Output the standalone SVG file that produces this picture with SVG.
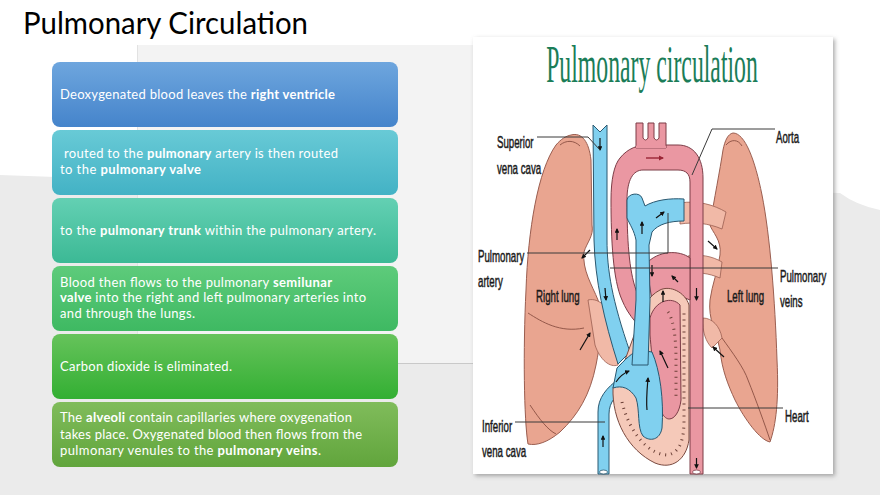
<svg xmlns="http://www.w3.org/2000/svg" width="880" height="495" viewBox="0 0 880 495">
<defs>
<style>
.bt{font-family:Lato,"Liberation Sans",sans-serif;font-size:13px;fill:#ffffff}
.b{font-weight:bold}
.lb{font-family:"Liberation Sans",Arial,sans-serif;font-size:17px;fill:#1a1a1a;stroke:#1a1a1a;stroke-width:0.5}
.ld{fill:none;stroke:#3a3a3a;stroke-width:1}
.lung{fill:#e9a590;stroke:#9a5e50;stroke-width:1}
.lt{fill:#f1b9a7;stroke:#9a5e50;stroke-width:0.8}
.blue{fill:#80d0ef;stroke:#2a5870;stroke-width:1}
.pink{fill:#ea97a2;stroke:#7c3d47;stroke-width:1}
.arr{fill:none;stroke:#111;stroke-width:1.2;marker-end:url(#ah)}
.fis{fill:none;stroke:#8a4f42;stroke-width:0.9}
.hat{fill:none;stroke:#6b3f36;stroke-width:3;stroke-dasharray:1 5}
</style>
<linearGradient id="g1" x1="0" y1="0" x2="0" y2="1"><stop offset="0" stop-color="#6ea6de"/><stop offset="1" stop-color="#4584cb"/></linearGradient>
<linearGradient id="g2" x1="0" y1="0" x2="0" y2="1"><stop offset="0" stop-color="#68cad6"/><stop offset="1" stop-color="#43b2c5"/></linearGradient>
<linearGradient id="g3" x1="0" y1="0" x2="0" y2="1"><stop offset="0" stop-color="#63d0b3"/><stop offset="1" stop-color="#3cb995"/></linearGradient>
<linearGradient id="g4" x1="0" y1="0" x2="0" y2="1"><stop offset="0" stop-color="#5ecb7b"/><stop offset="1" stop-color="#3eb962"/></linearGradient>
<linearGradient id="g5" x1="0" y1="0" x2="0" y2="1"><stop offset="0" stop-color="#66c35b"/><stop offset="1" stop-color="#33af33"/></linearGradient>
<linearGradient id="g6" x1="0" y1="0" x2="0" y2="1"><stop offset="0" stop-color="#80bc5b"/><stop offset="1" stop-color="#61a53c"/></linearGradient>
<marker id="ah" viewBox="0 0 10 10" refX="8" refY="5" markerWidth="4" markerHeight="4" orient="auto"><path d="M0,0 L10,5 L0,10 Z" fill="#111"/></marker>
<marker id="ahr" viewBox="0 0 10 10" refX="8" refY="5" markerWidth="4" markerHeight="4" orient="auto"><path d="M0,0 L10,5 L0,10 Z" fill="#9a2535"/></marker>
<filter id="sh" x="-5%" y="-5%" width="112%" height="112%"><feDropShadow dx="2" dy="2" stdDeviation="2" flood-color="#777" flood-opacity="0.6"/></filter>
</defs>

<g id="background">
<rect width="880" height="495" fill="#ffffff"/>
<path d="M0,175 L140,180 L470,185 L840,193 Q856,205 880,210 L880,495 L0,495 Z" fill="#ebebeb"/>
<rect x="137" y="45" width="340" height="318" fill="#f3f3f3"/>
<line x1="137.5" y1="45" x2="137.5" y2="363" stroke="#e2e2e2" stroke-width="1"/>
<line x1="398" y1="363.5" x2="474" y2="363.5" stroke="#c9c9c9" stroke-width="1.2"/>
</g>

<text id="title" x="23" y="34" font-family="Lato,'Liberation Sans',sans-serif" font-size="30" fill="#000" textLength="285" lengthAdjust="spacingAndGlyphs">Pulmonary Circulation</text>

<g id="step1">
<rect x="52" y="62" width="346" height="65" rx="8" fill="url(#g1)"/>
<text class="bt" x="60" y="99" textLength="275" lengthAdjust="spacing">Deoxygenated blood leaves the <tspan class="b">right ventricle</tspan></text>
</g>
<g id="step2">
<rect x="52" y="130" width="346" height="65" rx="8" fill="url(#g2)"/>
<text class="bt" x="64" y="158" textLength="274" lengthAdjust="spacing">routed to the <tspan class="b">pulmonary</tspan> artery is then routed</text>
<text class="bt" x="60" y="174" textLength="141" lengthAdjust="spacing">to the <tspan class="b">pulmonary valve</tspan></text>
</g>
<g id="step3">
<rect x="52" y="198" width="346" height="65" rx="8" fill="url(#g3)"/>
<text class="bt" x="60" y="235" textLength="316" lengthAdjust="spacing">to the <tspan class="b">pulmonary trunk</tspan> within the pulmonary artery.</text>
</g>
<g id="step4">
<rect x="52" y="266" width="346" height="65" rx="8" fill="url(#g4)"/>
<text class="bt" x="60" y="287" textLength="272" lengthAdjust="spacing">Blood then flows to the pulmonary <tspan class="b">semilunar</tspan></text>
<text class="bt" x="60" y="302" textLength="306" lengthAdjust="spacing"><tspan class="b">valve</tspan> into the right and left pulmonary arteries into</text>
<text class="bt" x="60" y="318" textLength="135" lengthAdjust="spacing">and through the lungs.</text>
</g>
<g id="step5">
<rect x="52" y="334" width="346" height="65" rx="8" fill="url(#g5)"/>
<text class="bt" x="60" y="371" textLength="172" lengthAdjust="spacing">Carbon dioxide is eliminated.</text>
</g>
<g id="step6">
<rect x="52" y="402" width="346" height="65" rx="8" fill="url(#g6)"/>
<text class="bt" x="60" y="422" textLength="292" lengthAdjust="spacing">The <tspan class="b">alveoli</tspan> contain capillaries where oxygenation</text>
<text class="bt" x="60" y="439" textLength="302" lengthAdjust="spacing">takes place. Oxygenated blood then flows from the</text>
<text class="bt" x="60" y="455" textLength="261" lengthAdjust="spacing">pulmonary venules to the <tspan class="b">pulmonary veins</tspan>.</text>
</g>

<g id="illustration">
<rect x="473" y="37" width="360" height="437" fill="#ffffff" filter="url(#sh)"/>
<text transform="translate(652,82) scale(0.457,1)" x="0" y="0" text-anchor="middle" font-family="'Liberation Serif',serif" font-size="52" fill="#1b7d58">Pulmonary circulation</text>

<g id="right-lung">
<path class="lung" d="M571,135 C582,132 589,142 591,160 L592,225 C594,236 587,242 584,252 C582,270 592,285 598,300 C604,318 600,345 596,365 C590,395 578,415 560,432 C548,442 537,446 528,444 C524,420 523,350 526,290 C528,230 538,170 556,145 C561,139 566,136 571,135 Z"/>
<path class="fis" d="M528,313 C542,322 560,333 584,328"/>
<path class="fis" d="M560,145 C566,140 574,140 580,146"/>
<path class="fis" d="M530,405 C540,420 548,430 556,434"/>
</g>
<g id="left-lung">
<path class="lung" d="M733,133 C745,133 755,160 762,195 C770,235 775,300 777,360 C779,400 776,425 770,442 C760,440 745,420 735,400 C728,385 722,370 720,350 C716,330 708,320 710,300 C712,285 718,270 720,255 C722,240 712,232 710,225 C714,200 720,170 723,150 C725,140 728,134 733,133 Z"/>
<path class="fis" d="M722,338 C732,352 744,368 748,380 C756,400 765,425 770,440"/>
<path class="fis" d="M726,145 C731,139 738,139 742,146"/>
</g>

<path class="lt" d="M588,300 C600,297 612,310 615,330 L618,365 C610,368 600,360 595,345 Z"/>
<path class="lt" d="M680,203 C698,200 714,205 726,212 L722,229 C708,223 694,222 680,224 Z"/>
<path class="lt" d="M688,256 C700,254 712,256 722,262 L720,278 C708,273 698,272 688,274 Z"/>
<path class="lt" d="M703,318 C712,318 720,326 722,338 L712,348 C706,342 702,332 703,318 Z"/>

<g id="aorta">
<path class="pink" d="M656,338 C640,330 628,315 622,300 C613,280 611,240 611,200 C611,180 614,165 620,158 C628,148 638,145 648,145 L678,145 C694,145 703,158 703,178 L703,474 L690,474 L690,182 C690,174 686,170 678,170 L643,170 C633,170 627,180 627,200 C627,240 629,270 636,290 C642,305 652,315 662,322 Z"/>
<path class="pink" d="M636,148 L636,123 L643,123 L643,138 Q645.5,142 648,138 L648,123 L654,123 L654,138 Q656.5,142 659,138 L659,123 L666,123 L666,148 Z"/>
<path d="M636,147 L666,147" stroke="#ea97a2" stroke-width="2.5"/>
<ellipse cx="696.5" cy="472" rx="4" ry="2" fill="#fff" stroke="#7c3d47" stroke-width="0.8"/>
</g>

<g id="vena-cava">
<path class="blue" d="M593,125 L600,132 L607,125 L607,240 C607,270 612,300 630,352 L618,364 C604,320 595,280 594,240 Z"/>
<path class="blue" d="M598,474 L598,412 C598,398 606,388 620,378 L630,386 C616,394 609,402 609,414 L609,474 Z"/>
<ellipse cx="603.5" cy="472" rx="4" ry="2" fill="#fff" stroke="#2a5870" stroke-width="0.8"/>
</g>

<g id="heart">
<path class="pink" d="M646,264 C658,250 680,250 690,258 L690,300 C680,295 665,295 652,300 Z"/>
<path fill="#f5c9b9" stroke="#7a4a40" stroke-width="1" d="M613,388 C612,420 628,450 655,463 C672,470 686,460 689,440 L689,305 C685,292 670,285 660,290 C648,296 640,310 636,330 L625,360 Z"/>
<path class="hat" d="M622,402 C630,435 650,455 668,455 C680,452 684,440 684,420 L684,310"/>
<path class="pink" d="M650,318 C655,300 672,296 680,305 L681,400 C679,418 668,425 662,413 C656,395 652,360 650,335 Z"/>
<path class="hat" d="M668,312 C674,320 676,340 676,360 L676,400"/>
<path class="blue" d="M617,368 C625,360 632,352 640,350 L652,352 C660,370 664,400 662,428 C660,440 650,442 643,436 C637,428 640,410 636,398 C630,388 622,385 613,388 Z"/>
</g>

<g id="pulmonary-artery">
<path class="blue" d="M632,365 L636,300 L636,240 C634,230 630,225 627,218 L627,200 C628,193 640,192 642,198 L645,206 C655,200 670,198 684,199 L684,221 C670,221 658,224 652,232 L649,245 L650,300 L648,365 Z"/>
</g>

<g id="flow-arrows">
<path class="arr" d="M600,138 L600,150"/>
<path class="arr" d="M605,288 L606,300"/>
<path fill="none" stroke="#9a2535" stroke-width="1.4" marker-end="url(#ahr)" d="M646,158 L663,158"/>
<path class="arr" d="M642,234 L642,222"/>
<path class="arr" d="M656,218 L664,212"/>
<path class="arr" d="M617,240 L617,229"/>
<path class="arr" d="M590,250 L582,258"/>
<path class="arr" d="M708,241 L717,249"/>
<path class="arr" d="M580,350 L590,333"/>
<path class="arr" d="M724,357 L713,347"/>
<path class="arr" d="M663,302 L663,291"/>
<path class="arr" d="M678,282 L672,276"/>
<path class="arr" d="M652,265 L652,276"/>
<path class="arr" d="M616,382 C620,376 624,373 629,371"/>
<path class="arr" d="M647,410 C646,400 647,390 648,378"/>
<path class="arr" d="M668,368 C665,362 663,357 660,351"/>
<path class="arr" d="M603,447 L603,436"/>
<path class="arr" d="M696.5,288 L696.5,300"/>
<path class="arr" d="M696.5,458 L696.5,468"/>
</g>

<g id="labels" transform="scale(0.57,1)">
<text class="lb" x="871.9" y="148">Superior</text>
<text class="lb" x="871.9" y="174">vena cava</text>
<text class="lb" x="1361.4" y="143">Aorta</text>
<text class="lb" x="838.6" y="262">Pulmonary</text>
<text class="lb" x="838.6" y="287">artery</text>
<text class="lb" x="940.4" y="302">Right lung</text>
<text class="lb" x="1275.4" y="302">Left lung</text>
<text class="lb" x="1368.4" y="282">Pulmonary</text>
<text class="lb" x="1368.4" y="307">veins</text>
<text class="lb" x="1377.2" y="422">Heart</text>
<text class="lb" x="845.6" y="432">Inferior</text>
<text class="lb" x="845.6" y="457">vena cava</text>
</g>
</g>

<g id="connectors">
<path class="ld" d="M537,137 L588,137 L600,150"/>
<path class="ld" d="M775,129 L712,129 L692,175"/>
<path class="ld" d="M527,253 L668,253 L668,213"/>
<path class="ld" d="M610,268 L778,268"/>
<path class="ld" d="M688,408 L783,408"/>
<path class="ld" d="M515,422 L605,422"/>
</g>
</svg>
